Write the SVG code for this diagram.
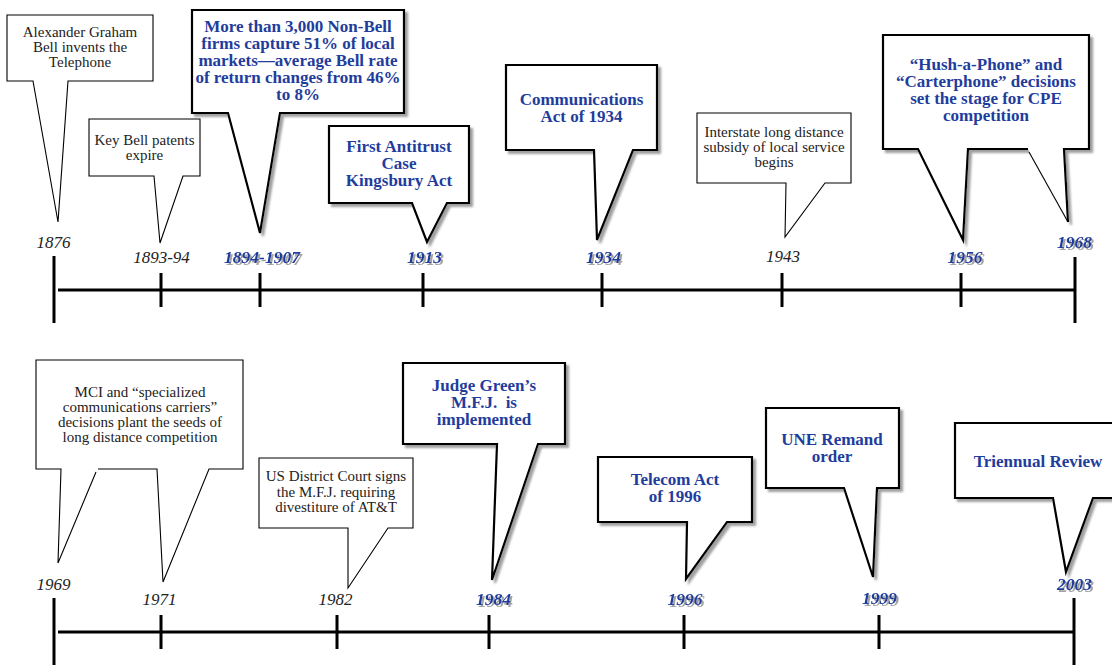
<svg xmlns="http://www.w3.org/2000/svg" width="1112" height="665" viewBox="0 0 1112 665">
<style>
.thin{fill:#fff;stroke:#000;stroke-width:1.1;stroke-linejoin:miter}
.thick{fill:#fff;stroke:#000;stroke-width:2.2;stroke-linejoin:miter;filter:url(#bshadow)}
.tl{stroke:#000;stroke-width:3;fill:none}
.reg{font-family:"Liberation Serif","Times New Roman",serif;font-size:15px;fill:#222;text-anchor:middle}
.bold{font-family:"Liberation Serif","Times New Roman",serif;font-size:17px;font-weight:bold;fill:#1f3d9c;text-anchor:middle}
.yr{font-family:"Liberation Serif","Times New Roman",serif;font-size:17px;font-style:italic;fill:#222;text-anchor:middle}
.yb{font-family:"Liberation Serif","Times New Roman",serif;font-size:17.5px;font-style:italic;font-weight:bold;fill:#1f3d9c;text-anchor:middle;filter:url(#tshadow)}
</style>
<defs>
<filter id="bshadow" x="-10%" y="-10%" width="130%" height="130%">
<feGaussianBlur in="SourceAlpha" stdDeviation="1"/>
<feOffset dx="3" dy="3" result="o"/>
<feFlood flood-color="#888" flood-opacity="0.8"/>
<feComposite in2="o" operator="in" result="s"/>
<feMerge><feMergeNode in="s"/><feMergeNode in="SourceGraphic"/></feMerge>
</filter>
<filter id="tshadow" x="-10%" y="-20%" width="130%" height="150%">
<feGaussianBlur in="SourceAlpha" stdDeviation="0.5"/>
<feOffset dx="1.5" dy="1.5" result="o"/>
<feFlood flood-color="#999" flood-opacity="0.9"/>
<feComposite in2="o" operator="in" result="s"/>
<feMerge><feMergeNode in="s"/><feMergeNode in="SourceGraphic"/></feMerge>
</filter>
</defs>

<g id="connectors">
<path class="tl" d="M58,290 H1075"/>
<path class="tl" d="M54,256 V323"/>
<path class="tl" d="M1075,257 V323"/>
<path class="tl" d="M161,273 V307 M260,273 V307 M423,273 V307 M602,273 V307 M782,273 V307 M961,273 V307"/>
<path class="tl" d="M58,632 H1074"/>
<path class="tl" d="M54,598 V665"/>
<path class="tl" d="M1074,598 V665"/>
<path class="tl" d="M161,615 V649 M337,615 V649 M489,615 V649 M684,615 V649 M879,615 V649"/>
</g>

<g id="years">
<text class="yr" x="53.5" y="248">1876</text>
<text class="yr" x="161.5" y="263">1893-94</text>
<text class="yb" x="262" y="263">1894-1907</text>
<text class="yb" x="424.5" y="263">1913</text>
<text class="yb" x="603.5" y="263">1934</text>
<text class="yr" x="783" y="262">1943</text>
<text class="yb" x="965" y="263">1956</text>
<text class="yb" x="1074.5" y="248">1968</text>
<text class="yr" x="53.5" y="590">1969</text>
<text class="yr" x="159.5" y="605">1971</text>
<text class="yr" x="335.5" y="605">1982</text>
<text class="yb" x="493.5" y="605">1984</text>
<text class="yb" x="685" y="605">1996</text>
<text class="yb" x="879.5" y="604">1999</text>
<text class="yb" x="1074.5" y="590">2003</text>
</g>

<g id="n1876">
<path class="thin" d="M7,15 H153 V81 H68 L58,222 L33,81 H7 Z"/>
<text class="reg" x="80" y="37">Alexander Graham</text>
<text class="reg" x="80" y="52">Bell invents the</text>
<text class="reg" x="80" y="67">Telephone</text>
</g>

<g id="n1893">
<path class="thin" d="M89,119 H200 V176 H183 L160,243 L154,176 H89 Z"/>
<text class="reg" x="144.5" y="145">Key Bell patents</text>
<text class="reg" x="144.5" y="160">expire</text>
</g>

<g id="n1894">
<path class="thick" d="M192,10 H404 V113 H280 L260,233 L228,113 H192 Z"/>
<text class="bold" x="298" y="32">More than 3,000 Non-Bell</text>
<text class="bold" x="298" y="49">firms capture 51% of local</text>
<text class="bold" x="298" y="66">markets—average Bell rate</text>
<text class="bold" x="298" y="83">of return changes from 46%</text>
<text class="bold" x="298" y="100">to 8%</text>
</g>

<g id="n1913">
<path class="thick" d="M329,126 H469 V203 H447 L427,242 L412,203 H329 Z"/>
<text class="bold" x="399" y="152">First Antitrust</text>
<text class="bold" x="399" y="169">Case</text>
<text class="bold" x="399" y="186">Kingsbury Act</text>
</g>

<g id="n1934">
<path class="thick" d="M506,65 H657 V150 H633 L597,240 L594,150 H506 Z"/>
<text class="bold" x="581.5" y="105">Communications</text>
<text class="bold" x="581.5" y="122">Act of 1934</text>
</g>

<g id="n1943">
<path class="thin" d="M697,113 H851 V183 H825 L785,237 L786,183 H697 Z"/>
<text class="reg" x="774" y="137">Interstate long distance</text>
<text class="reg" x="774" y="152">subsidy of local service</text>
<text class="reg" x="774" y="167">begins</text>
</g>

<g id="n1956">
<path class="thick" d="M1028,149 H968 L963,240 L918,149 H883 V35 H1089 V149 H1064 L1068,222"/>
<path d="M1029,152 L1068,222" stroke="#000" stroke-width="1.1" fill="none"/>
<text class="bold" x="986" y="70">“Hush-a-Phone” and</text>
<text class="bold" x="986" y="87">“Carterphone” decisions</text>
<text class="bold" x="986" y="104">set the stage for CPE</text>
<text class="bold" x="986" y="121">competition</text>
</g>

<g id="n1969">
<path class="thin" d="M98,469 H157 L163,582 L209,469 H243 V360 H36 V469 H61 L58,563 L96,472"/>
<text class="reg" x="140" y="397">MCI and “specialized</text>
<text class="reg" x="140" y="412">communications carriers”</text>
<text class="reg" x="140" y="427">decisions plant the seeds of</text>
<text class="reg" x="140" y="442">long distance competition</text>
</g>

<g id="n1982">
<path class="thin" d="M259,458 H413 V528 H388 L348,588 L348,528 H259 Z"/>
<text class="reg" x="336" y="481">US District Court signs</text>
<text class="reg" x="336" y="497">the M.F.J. requiring</text>
<text class="reg" x="336" y="512">divestiture of AT&amp;T</text>
</g>

<g id="n1984">
<path class="thick" d="M403,363 H565 V444 H538 L492,580 L497,444 H403 Z"/>
<text class="bold" x="484" y="391">Judge Green’s</text>
<text class="bold" x="484" y="408" xml:space="preserve">M.F.J.  is</text>
<text class="bold" x="484" y="425">implemented</text>
</g>

<g id="n1996">
<path class="thick" d="M598,457 H752 V522 H727 L686,579 L687,522 H598 Z"/>
<text class="bold" x="675" y="485">Telecom Act</text>
<text class="bold" x="675" y="502">of 1996</text>
</g>

<g id="n1999">
<path class="thick" d="M766,408 H899 V488 H877 L873,577 L844,488 H766 Z"/>
<text class="bold" x="832" y="445">UNE Remand</text>
<text class="bold" x="832" y="462">order</text>
</g>

<g id="n2003">
<path class="thick" d="M955,423 H1118 V498 H1093 L1066,572 L1053,498 H955 Z"/>
<text class="bold" x="1038" y="467">Triennual Review</text>
</g>
</svg>
